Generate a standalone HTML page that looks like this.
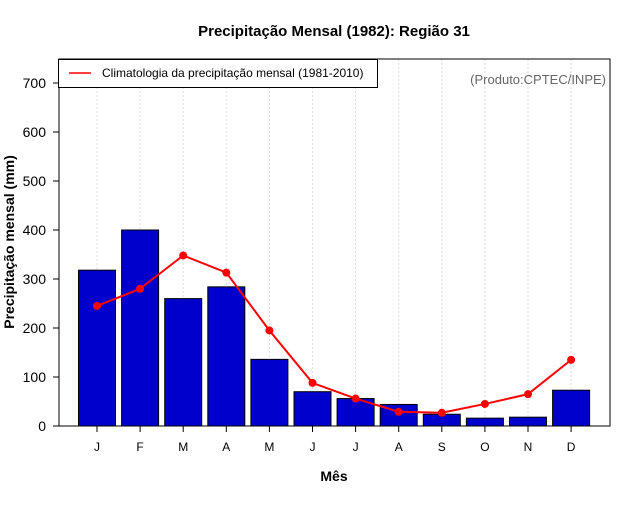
<!DOCTYPE html>
<html><head><meta charset="utf-8"><style>
body{margin:0;background:#fff}
svg text{font-family:"Liberation Sans",sans-serif}
</style></head><body>
<svg width="640" height="500" viewBox="0 0 640 500">
<text x="334" y="36" text-anchor="middle" font-size="15" font-weight="bold">Precipitação Mensal (1982): Região 31</text>
<text x="334" y="481" text-anchor="middle" font-size="14" font-weight="bold">Mês</text>
<text transform="translate(14,242) rotate(-90)" text-anchor="middle" font-size="14" font-weight="bold">Precipitação mensal (mm)</text>
<g id="grid"></g>
<g id="bars"></g>
<g id="line"></g>
<g id="axes"></g>
<rect x="59" y="59" width="551" height="367" fill="none" stroke="#000"/>
<g>
<rect x="58.5" y="59.5" width="319" height="28" fill="#fff" stroke="#000"/>
<line x1="69" y1="73" x2="91" y2="73" stroke="#f00" stroke-width="1.5"/>
<text x="102" y="77" font-size="12">Climatologia da precipitação mensal (1981-2010)</text>
</g>
<text x="606" y="84" text-anchor="end" font-size="13" fill="#666">(Produto:CPTEC/INPE)</text>
</svg>
<script>
const months=["J","F","M","A","M","J","J","A","S","O","N","D"];
const observed=[318,400,260,284,136,70,56,44,24,16,18,73];
const climatology=[245,280,348,313,195,88,56,29,27,45,65,135];
const yTicks=[0,100,200,300,400,500,600,700];
const NS="http://www.w3.org/2000/svg";
const x0=97,dx=43.1,y0=426,ky=0.49,bw=37;
const xs=i=>x0+i*dx, ys=v=>y0-v*ky;
function mk(t,a,p){const e=document.createElementNS(NS,t);for(const k in a)e.setAttribute(k,a[k]);p.appendChild(e);return e;}
const G=document.getElementById('grid'),B=document.getElementById('bars'),L=document.getElementById('line'),A=document.getElementById('axes');
months.forEach((m,i)=>{
 const g=mk('line',{x1:xs(i),x2:xs(i),y1:59,y2:426,stroke:'#ddd','stroke-dasharray':'2,2'},G);
 
 
 const r=mk('rect',{x:xs(i)-bw/2,y:ys(observed[i]),width:bw,height:observed[i]*ky,fill:'#0000cd',stroke:'#000','stroke-width':1},B);
 
 
 const t=mk('line',{x1:xs(i),x2:xs(i),y1:426,y2:432,stroke:'#000'},A);
 
 
 const l=mk('text',{x:xs(i),y:451,'text-anchor':'middle','font-size':12},A);l.textContent=m;
 
 
});
const pl=mk('polyline',{points:climatology.map((v,i)=>xs(i)+','+ys(v)).join(' '),fill:'none',stroke:'#f00','stroke-width':2},L);


climatology.forEach((v,i)=>{
 const c=mk('circle',{cx:xs(i),cy:ys(v),r:4,fill:'#f00'},L);
 
 
});
yTicks.forEach(v=>{
 const t=mk('line',{x1:53,x2:59,y1:ys(v),y2:ys(v),stroke:'#000'},A);
 
 
 const l=mk('text',{x:46,y:ys(v)+5,'text-anchor':'end','font-size':14},A);l.textContent=v;
 
 
});
</script>
</body></html>
